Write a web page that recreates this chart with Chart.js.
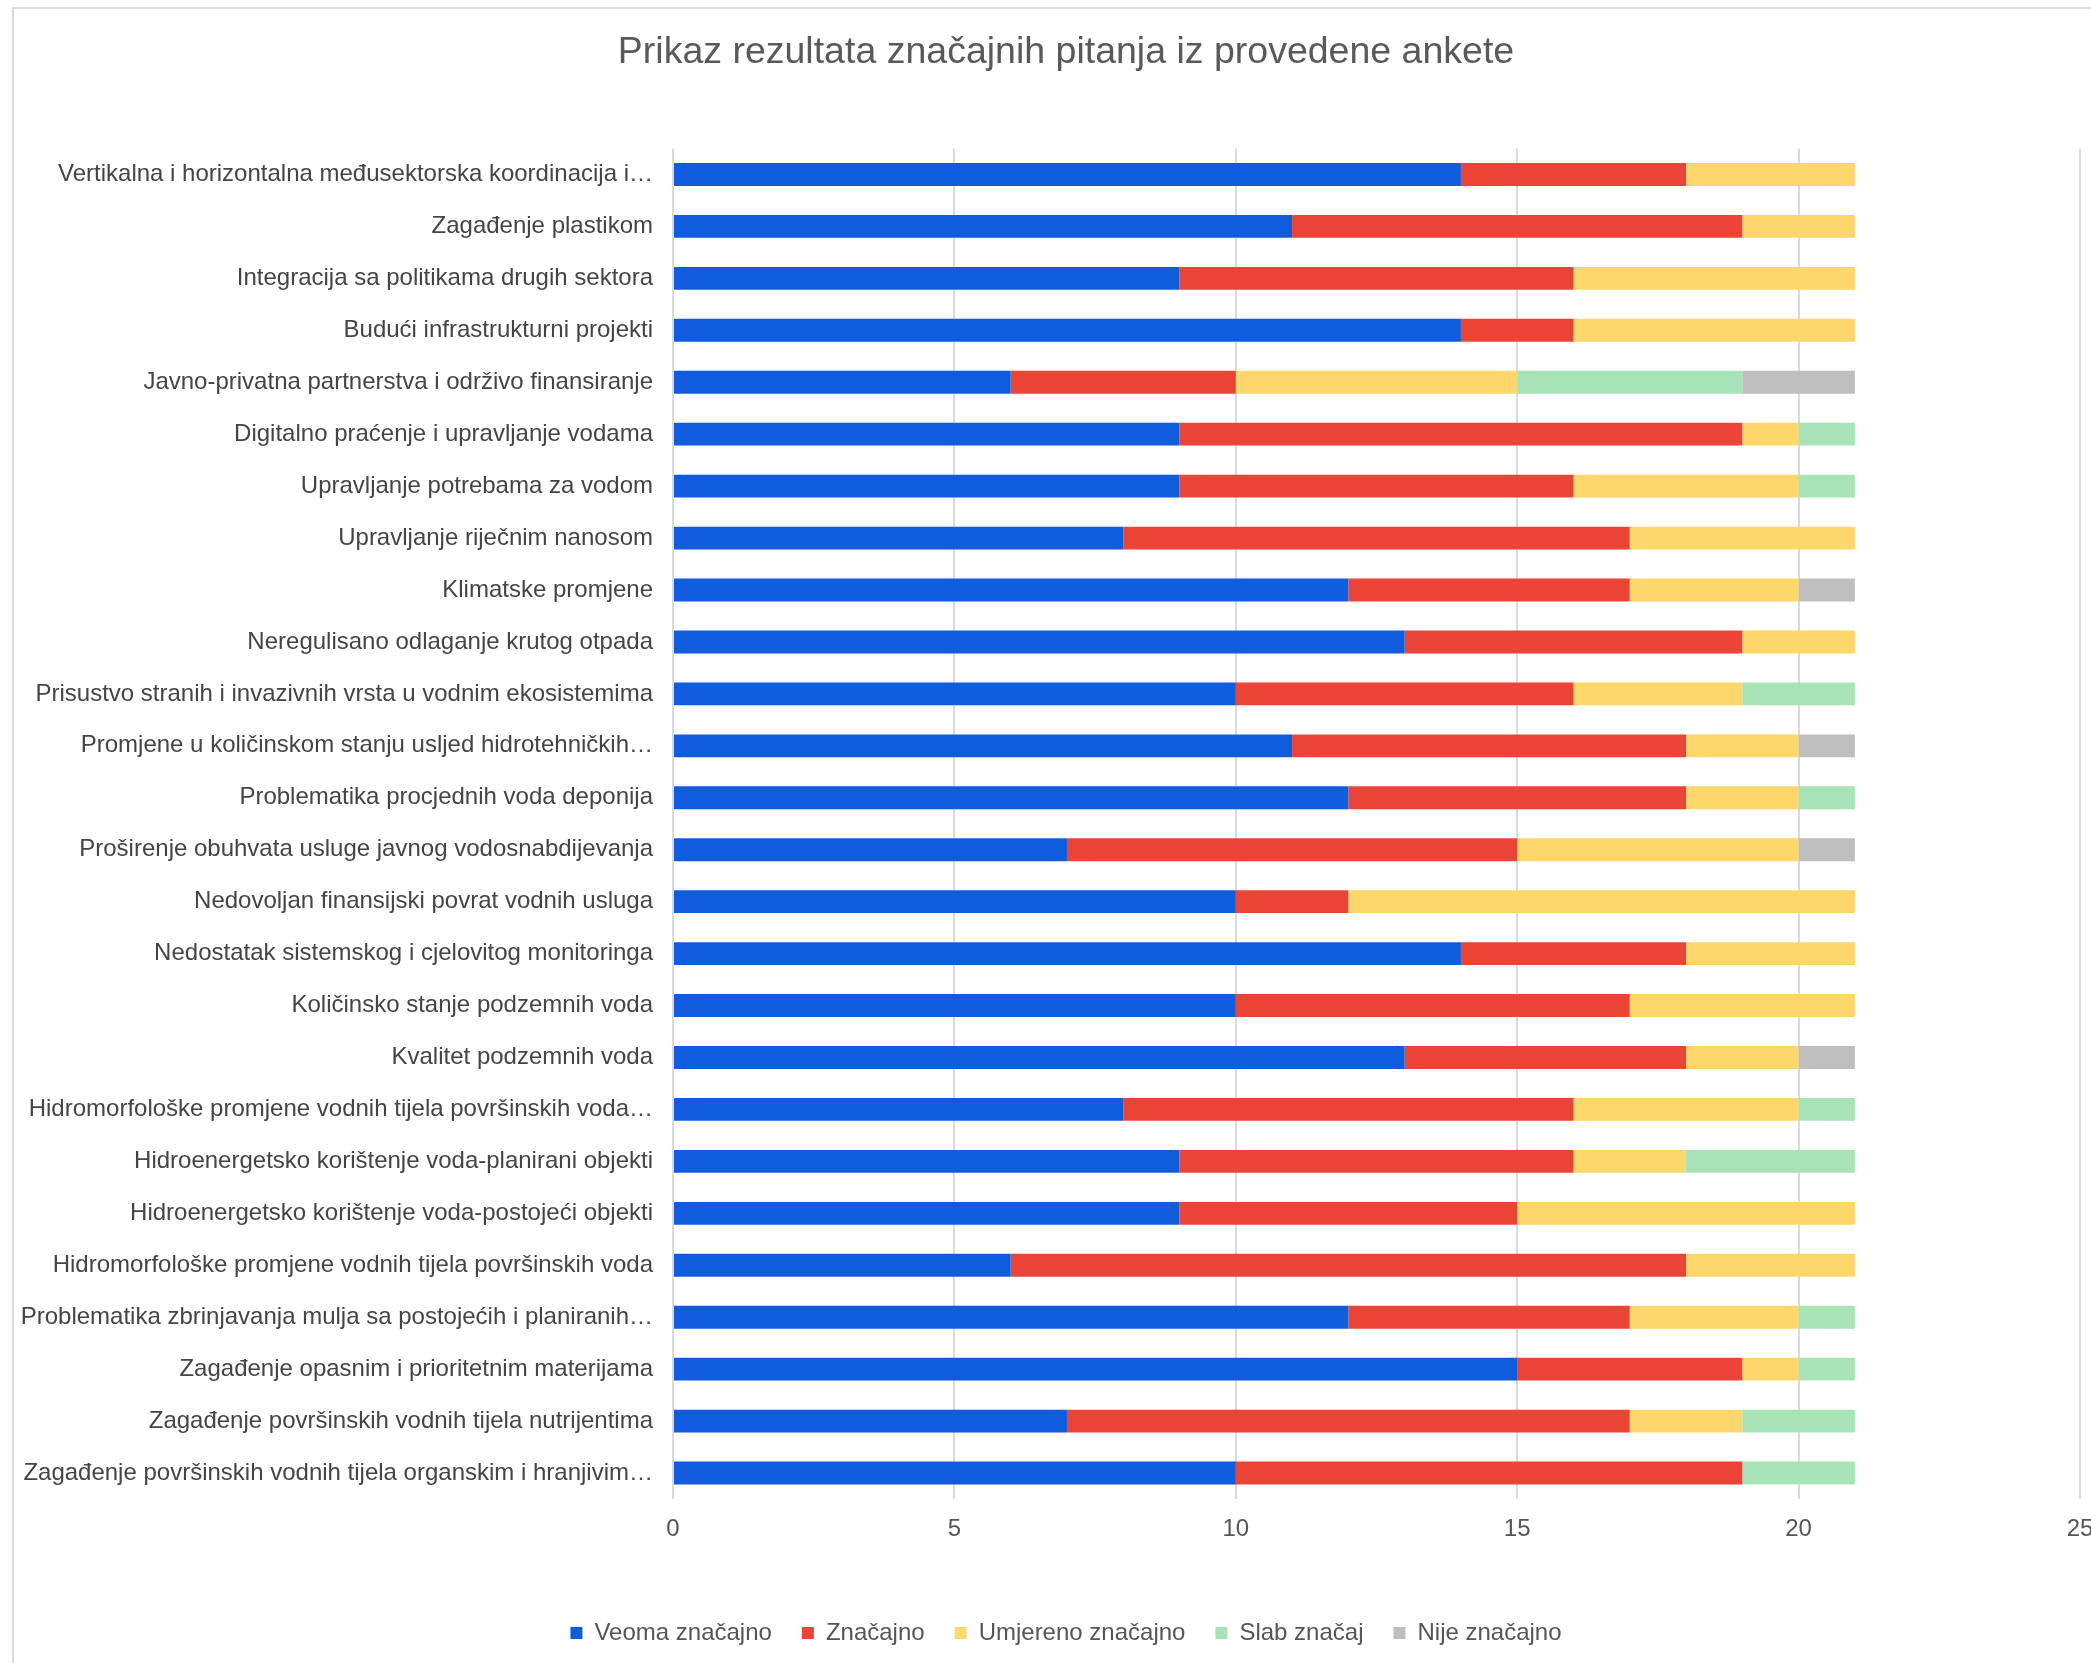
<!DOCTYPE html>
<html>
<head>
<meta charset="utf-8">
<title>Prikaz rezultata značajnih pitanja iz provedene ankete</title>
<script src="https://cdn.jsdelivr.net/npm/chart.js@4.4.1/dist/chart.umd.min.js"></script>
<style>
  html, body { margin: 0; padding: 0; background: #fff; overflow: hidden; }
  #okvir { position: absolute; left: 12px; top: 7px; width: 2200px; height: 1700px; border-top: 2px solid #dadada; border-left: 2px solid #dadada; }
  #grafikon { position: absolute; left: 0; top: 0; }
</style>
</head>
<body>
<div id="okvir"></div>
<canvas id="grafikon" width="2132" height="1663"></canvas>
<script>
const pitanja = [
  'Vertikalna i horizontalna međusektorska koordinacija i…',
  'Zagađenje plastikom',
  'Integracija sa politikama drugih sektora',
  'Budući infrastrukturni projekti',
  'Javno-privatna partnerstva i održivo finansiranje',
  'Digitalno praćenje i upravljanje vodama',
  'Upravljanje potrebama za vodom',
  'Upravljanje riječnim nanosom',
  'Klimatske promjene',
  'Neregulisano odlaganje krutog otpada',
  'Prisustvo stranih i invazivnih vrsta u vodnim ekosistemima',
  'Promjene u količinskom stanju usljed hidrotehničkih…',
  'Problematika procjednih voda deponija',
  'Proširenje obuhvata usluge javnog vodosnabdijevanja',
  'Nedovoljan finansijski povrat vodnih usluga',
  'Nedostatak sistemskog i cjelovitog monitoringa',
  'Količinsko stanje podzemnih voda',
  'Kvalitet podzemnih voda',
  'Hidromorfološke promjene vodnih tijela površinskih voda…',
  'Hidroenergetsko korištenje voda-planirani objekti',
  'Hidroenergetsko korištenje voda-postojeći objekti',
  'Hidromorfološke promjene vodnih tijela površinskih voda',
  'Problematika zbrinjavanja mulja sa postojećih i planiranih…',
  'Zagađenje opasnim i prioritetnim materijama',
  'Zagađenje površinskih vodnih tijela nutrijentima',
  'Zagađenje površinskih vodnih tijela organskim i hranjivim…'
];

const veomaZnacajno    = [14, 11, 9, 14, 6, 9, 9, 8, 12, 13, 10, 11, 12, 7, 10, 14, 10, 13, 8, 9, 9, 6, 12, 15, 7, 10];
const znacajno         = [4, 8, 7, 2, 4, 10, 7, 9, 5, 6, 6, 7, 6, 8, 2, 4, 7, 5, 8, 7, 6, 12, 5, 4, 10, 9];
const umjerenoZnacajno = [3, 2, 5, 5, 5, 1, 4, 4, 3, 2, 3, 2, 2, 5, 9, 3, 4, 2, 4, 2, 6, 3, 3, 1, 2, 0];
const slabZnacaj       = [0, 0, 0, 0, 4, 1, 1, 0, 0, 0, 2, 0, 1, 0, 0, 0, 0, 0, 1, 3, 0, 0, 1, 1, 2, 2];
const nijeZnacajno     = [0, 0, 0, 0, 2, 0, 0, 0, 1, 0, 0, 1, 0, 1, 0, 0, 0, 1, 0, 0, 0, 0, 0, 0, 0, 0];

const xTicks = [0, 5, 10, 15, 20, 25];

const font = '"Liberation Sans", Arial, sans-serif';
Chart.defaults.font.family = font;
Chart.defaults.font.size = 24;
Chart.defaults.color = '#555';

function serija(label, data, boja) {
  return { label, data, backgroundColor: boja, borderWidth: 0, barPercentage: 0.44, categoryPercentage: 1 };
}

new Chart(document.getElementById('grafikon'), {
  type: 'bar',
  data: {
    labels: pitanja,
    datasets: [
      serija('Veoma značajno', veomaZnacajno, '#0f5ddc'),
      serija('Značajno', znacajno, '#eb4436'),
      serija('Umjereno značajno', umjerenoZnacajno, '#fdd76b'),
      serija('Slab značaj', slabZnacaj, '#a7e3b7'),
      serija('Nije značajno', nijeZnacajno, '#bebebe')
    ]
  },
  options: {
    indexAxis: 'y',
    responsive: false,
    animation: false,
    devicePixelRatio: 1,
    layout: { padding: { left: 0, right: 0, top: 0, bottom: 8 } },
    scales: {
      x: {
        stacked: true,
        min: xTicks[0],
        max: xTicks[xTicks.length - 1],
        afterBuildTicks: s => { s.ticks = xTicks.map(v => ({ value: v })); },
        grid: { color: '#dadada', lineWidth: 2, drawTicks: false },
        border: { display: false },
        ticks: { padding: 16, color: '#555', font: { size: 24 } },
        afterFit: s => { s.height = 92; }
      },
      y: {
        stacked: true,
        grid: { display: false },
        border: { display: false },
        ticks: { autoSkip: false, padding: 12, color: '#444', font: { size: 24 } },
        afterFit: s => { s.width = 673; }
      },
      desno: {
        type: 'category',
        position: 'right',
        labels: [''],
        grid: { display: false },
        border: { display: false },
        ticks: { display: false },
        afterFit: s => { s.width = 52; }
      }
    },
    plugins: {
      title: {
        display: true,
        text: 'Prikaz rezultata značajnih pitanja iz provedene ankete',
        color: '#595959',
        font: { size: 37.5, weight: 'normal' },
        padding: { top: 30.5, bottom: 73 }
      },
      legend: {
        position: 'bottom',
        labels: { boxWidth: 12, boxHeight: 12, padding: 30, color: '#555', font: { size: 24 } }
      },
      tooltip: { enabled: false }
    }
  }
});
</script>
</body>
</html>
